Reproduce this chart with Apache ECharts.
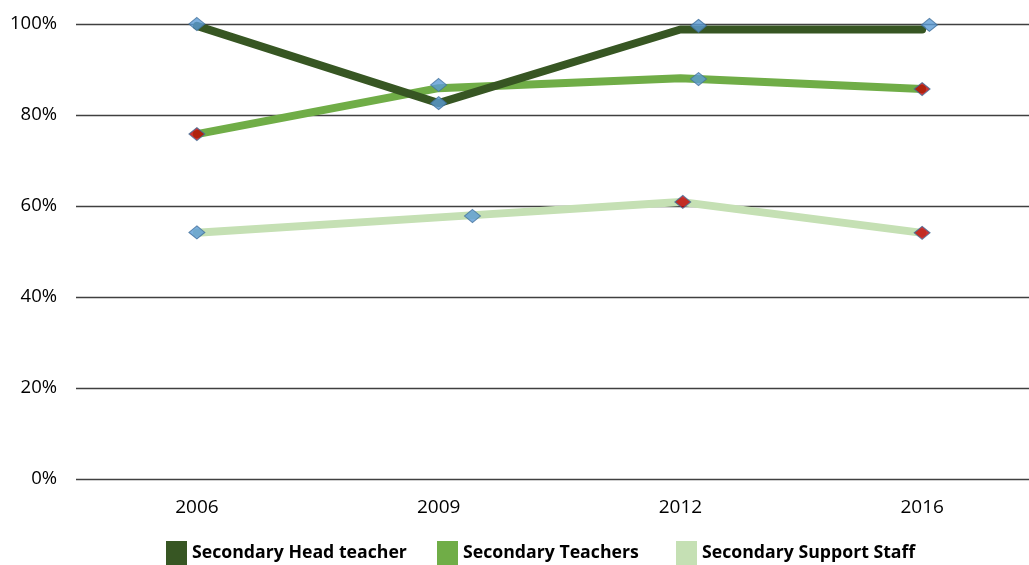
<!DOCTYPE html>
<html>
<head>
<meta charset="utf-8">
<script src="https://cdn.jsdelivr.net/npm/echarts@6/dist/echarts.min.js"></script>
<style>
html,body{margin:0;padding:0;background:#fff;overflow:hidden;}
#chart{width:1029px;height:565px;}
</style>
</head>
<body>
<div id="chart"></div>
<script>
// Categories and values
var years = ['2006', '2009', '2012', '2016'];
var yTicks = [0, 20, 40, 60, 80, 100];

var headLine = [99.6, 82.6, 98.8, 98.8];
var teachersLine = [75.8, 85.9, 88.1, 85.7];
var supportLine = [54.1, 57.5, 60.9, 54.1];

// Marker values (category index position, percent) and highlight flags
var headMarkX = [0, 0, 0.075, 0.03];
var headMarkY = [100, 82.6, 99.6, 99.8];
var headFlag = [0, 0, 0, 0];

var teachersMarkX = [0, 0, 0.075, 0];
var teachersMarkY = [75.8, 86.6, 87.9, 85.7];
var teachersFlag = [1, 0, 0, 1];

var supportMarkX = [0, 0.14, 0.01, 0];
var supportMarkY = [54.2, 57.8, 60.9, 54.1];
var supportFlag = [0, 0, 1, 1];

var FONT = '"Open Sans", sans-serif';
var names = ['Secondary Head teacher', 'Secondary Teachers', 'Secondary Support Staff'];
var colors = ['#375623', '#70AD47', '#C5E0B4'];
var legendLefts = [161, 432, 671];

function markerData(xs, ys, flags) {
  return xs.map(function (x, i) {
    return {
      value: [i + x, ys[i]],
      itemStyle: {
        color: flags[i] ? '#C00000' : '#5B9BD5',
        borderColor: '#41719C',
        borderWidth: 1
      }
    };
  });
}

var chart = echarts.init(document.getElementById('chart'), null, {renderer: 'canvas'});
chart.setOption({
  animation: false,
  backgroundColor: '#ffffff',
  grid: {left: 76, width: 967, top: 24, bottom: 86, containLabel: false, outerBoundsMode: 'none'},
  legend: names.map(function (n, i) {
    return {
      data: [{name: n, icon: 'rect'}],
      left: legendLefts[i],
      top: 536,
      itemWidth: 21,
      itemHeight: 24,
      selectedMode: false,
      textStyle: {fontFamily: FONT, fontSize: 17.7, fontWeight: 'bold', color: '#000'}
    };
  }),
  xAxis: [{
    type: 'category',
    data: years,
    boundaryGap: true,
    axisLine: {show: false},
    axisTick: {show: false},
    axisLabel: {fontFamily: FONT, fontSize: 19, color: '#000', margin: 19}
  }, {
    type: 'value',
    min: -0.5,
    max: 3.5,
    show: false
  }],
  yAxis: {
    type: 'value',
    min: yTicks[0],
    max: yTicks[yTicks.length - 1],
    interval: 20,
    axisLine: {show: false},
    axisTick: {show: false},
    axisLabel: {fontFamily: FONT, fontSize: 18.5, color: '#000', margin: 19, formatter: '{value}%'},
    splitLine: {lineStyle: {color: '#404040', width: 1.3}}
  },
  series: [
    {
      name: names[1], type: 'line', data: teachersLine, xAxisIndex: 0,
      symbol: 'none', color: colors[1], z: 3,
      lineStyle: {width: 8, color: colors[1], cap: 'round', join: 'round'}
    },
    {
      name: names[2], type: 'line', data: supportLine, xAxisIndex: 0,
      symbol: 'none', color: colors[2], z: 3,
      lineStyle: {width: 8, color: colors[2], cap: 'round', join: 'round'}
    },
    {
      name: names[0], type: 'line', data: headLine, xAxisIndex: 0,
      symbol: 'none', color: colors[0], z: 4,
      lineStyle: {width: 8, color: colors[0], cap: 'round', join: 'round'}
    },
    {
      type: 'scatter', xAxisIndex: 1, symbol: 'diamond', symbolSize: [16, 13], z: 6,
      data: markerData(headMarkX, headMarkY, headFlag)
    },
    {
      type: 'scatter', xAxisIndex: 1, symbol: 'diamond', symbolSize: [16, 13], z: 6,
      data: markerData(teachersMarkX, teachersMarkY, teachersFlag)
    },
    {
      type: 'scatter', xAxisIndex: 1, symbol: 'diamond', symbolSize: [16, 13], z: 6,
      data: markerData(supportMarkX, supportMarkY, supportFlag)
    }
  ]
});
</script>
</body>
</html>
